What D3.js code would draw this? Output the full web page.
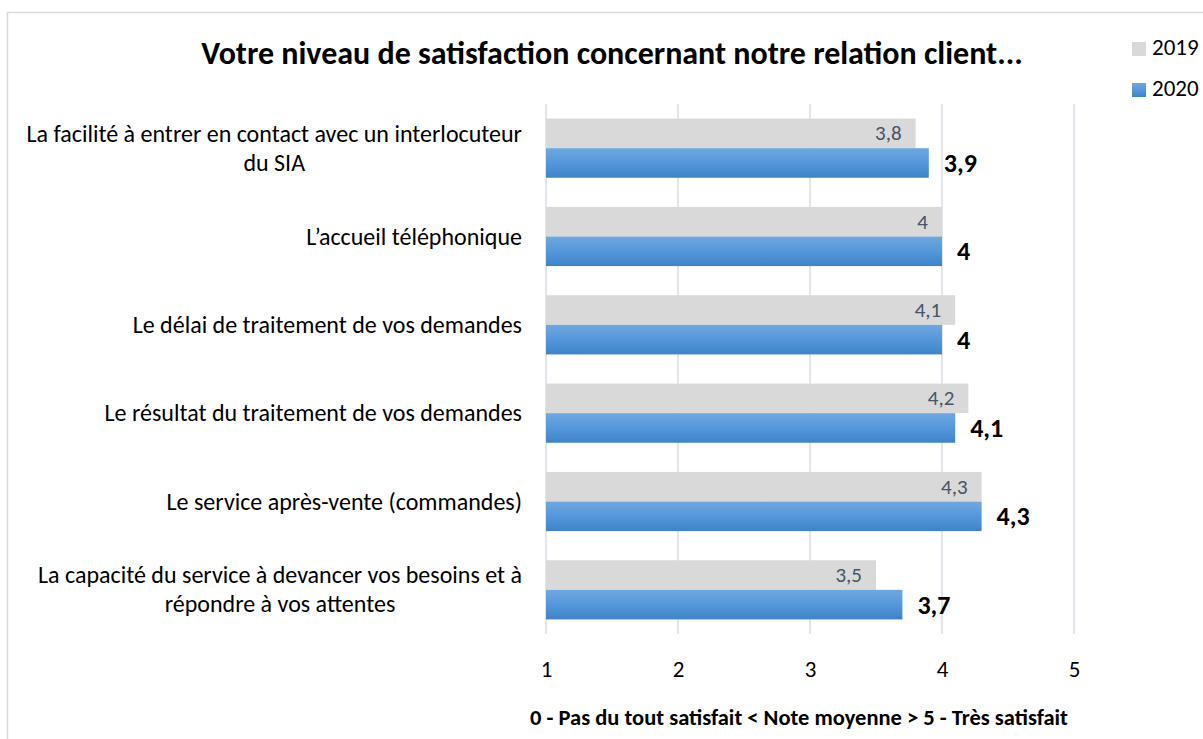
<!DOCTYPE html>
<html><head><meta charset="utf-8">
<script src="https://cdn.jsdelivr.net/npm/d3@7"></script>
<style>
body{margin:0;background:#fff;}
svg{display:block;font-family:Calibri,Carlito,Lato,sans-serif;}
</style></head>
<body><svg id="c" width="1203" height="739"></svg>
<script>
const categories = [
  "La facilité à entrer en contact avec un interlocuteur|du SIA",
  "L’accueil téléphonique",
  "Le délai de traitement de vos demandes",
  "Le résultat du traitement de vos demandes",
  "Le service après-vente (commandes)",
  "La capacité du service à devancer vos besoins et à|répondre à vos attentes"
];
const values2019 = [3.8, 4.0, 4.1, 4.2, 4.3, 3.5];
const values2020 = [3.9, 4.0, 4.0, 4.1, 4.3, 3.7];
const seriesNames = ["2019", "2020"];
const tickValues = [1, 2, 3, 4, 5];
const fmt = v => String(v).replace(".", ",");

const svg = d3.select("#c");
const defs = svg.append("defs");
const g = defs.append("linearGradient").attr("id","blueGrad").attr("x1",0).attr("y1",0).attr("x2",0).attr("y2",1);
g.append("stop").attr("offset","0%").attr("stop-color","#70a8df");
g.append("stop").attr("offset","50%").attr("stop-color","#5497da");
g.append("stop").attr("offset","100%").attr("stop-color","#3f84c8");

// frame
svg.append("rect").attr("x",7.5).attr("y",12.5).attr("width",1300).attr("height",800)
  .attr("fill","none").attr("stroke","#d9d9d9").attr("stroke-width",1.5);

const x = d3.scaleLinear().domain([1,5]).range([546,1074]);
const y0 = d3.scaleBand().domain(categories).range([104,634]).paddingInner(0.33).paddingOuter(0.165);
const y1 = d3.scaleBand().domain(seriesNames).range([0,y0.bandwidth()]);

// title
svg.append("text").attr("x",612).attr("y",64).attr("text-anchor","middle")
  .attr("font-size",32).attr("font-weight","bold").attr("fill","#000")
  .text("Votre niveau de satisfaction concernant notre relation client...");

// gridlines
svg.append("g").selectAll("line").data(tickValues).join("line")
  .attr("x1",d=>x(d)).attr("x2",d=>x(d)).attr("y1",104).attr("y2",634)
  .attr("stroke","#d9dde4").attr("stroke-width",1.5);

// x axis ticks
const xAxis = d3.axisBottom(x).tickValues(tickValues).tickSize(0).tickPadding(0).tickFormat(d=>d);
const xa = svg.append("g").attr("transform","translate(0,677)").call(xAxis);
xa.select(".domain").remove();
xa.selectAll("text").attr("font-size",23).attr("fill","#000").attr("font-family","Calibri,Carlito,Lato,sans-serif").attr("dy","0");

// axis title
svg.append("text").attr("x",799).attr("y",725).attr("text-anchor","middle")
  .attr("font-size",22.5).attr("font-weight","bold").attr("fill","#000")
  .text("0 - Pas du tout satisfait < Note moyenne > 5 - Très satisfait");

// bars
const rows = categories.map((c,i)=>({c, v19:values2019[i], v20:values2020[i]}));
const grp = svg.append("g").selectAll("g").data(rows).join("g")
  .attr("transform",d=>`translate(0,${y0(d.c)})`);
grp.append("rect").attr("x",x(1)).attr("y",y1("2019")).attr("height",y1.bandwidth())
  .attr("width",d=>x(d.v19)-x(1)).attr("fill","#d9d9d9");
grp.append("rect").attr("x",x(1)).attr("y",y1("2020")).attr("height",y1.bandwidth())
  .attr("width",d=>x(d.v20)-x(1)).attr("fill","url(#blueGrad)");
grp.append("text").attr("x",d=>x(d.v19)-14).attr("y",y1("2019")+y1.bandwidth()/2+7)
  .attr("text-anchor","end").attr("font-size",21).attr("fill","#44546a").text(d=>fmt(d.v19));
grp.append("text").attr("x",d=>x(d.v20)+15).attr("y",y1("2020")+y1.bandwidth()/2+9)
  .attr("text-anchor","start").attr("font-size",26).attr("font-weight","bold").attr("fill","#000").text(d=>fmt(d.v20));

// category labels
const labG = svg.append("g");
categories.forEach(c=>{
  const lines = c.split("|");
  const cy = y0(c)+y0.bandwidth()/2;
  const lh = 29;
  const t = labG.append("text").attr("font-size",24).attr("fill","#000");
  lines.forEach((l,i)=>{
    t.append("tspan").attr("y",cy + (i-(lines.length-1)/2)*lh + 8).text(l);
  });
  const tsp = t.selectAll("tspan").nodes();
  const ws = tsp.map(n=>n.getComputedTextLength());
  const bw = Math.max(...ws);
  const cx = 522 - bw/2;
  t.selectAll("tspan").attr("x",cx).attr("text-anchor","middle");
});

// legend
const leg = svg.append("g");
[["2019","#d9d9d9",55],["2020","url(#blueGrad)",96]].forEach(([n,col,yy])=>{
  leg.append("rect").attr("x",1132).attr("y",yy-13).attr("width",14).attr("height",14).attr("fill",col);
  leg.append("text").attr("x",1152).attr("y",yy).attr("font-size",23).attr("fill","#000").text(n);
});
</script></body></html>
